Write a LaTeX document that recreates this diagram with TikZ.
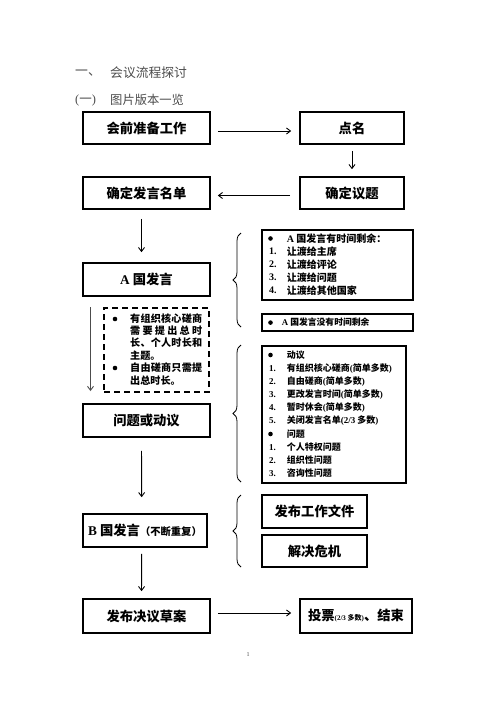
\documentclass[tikz,border=0pt]{standalone}
\usepackage{fontspec}
\setmainfont{Liberation Serif}
\newfontfamily\cjk{Noto Sans CJK SC}
\usetikzlibrary{arrows.meta,decorations.pathreplacing}
\newcommand\latn[1]{{\rmfamily\bfseries #1}}
\newcommand\fsz[1]{\fontsize{#1}{#1}\selectfont}
\begin{document}
\begin{tikzpicture}[x=1pt,y=-1pt,
 box/.style={draw,line width=1.6pt,inner sep=0pt,font=\cjk\bfseries\fsz{13.3}},
 arr/.style={line width=0.9pt,-{Straight Barb[length=4pt,width=6pt]}},
 brc/.style={line width=0.8pt,decorate,decoration={brace,amplitude=8pt}},
 itm/.style={anchor=west,inner sep=0pt,font=\cjk\bfseries\fsz{9}},
 num/.style={anchor=west,inner sep=0pt,font=\rmfamily\bfseries\fsz{9}},
 head/.style={anchor=west,inner sep=0pt,text=black!70,font=\cjk\fsz{12.8}},
]
\useasboundingbox[fill=white] (0,0) rectangle (496,702);

% headings
\node[head] (h1a) at (75,73) {一、};
\node[head] (h1b) at (110,73) {会议流程探讨};
\node[head,font=\rmfamily\fsz{12.5}] (h2a) at (75,100) {(\cjk 一\rmfamily)};
\node[head,font=\cjk\fsz{12.3}] (h2b) at (110,100) {图片版本一览};

% main boxes
\node[box,minimum width=127pt,minimum height=32pt] (b1) at (146.5,128) {会前准备工作};
\node[box,minimum width=104pt,minimum height=32pt] (b2) at (352,128) {点名};
\node[box,minimum width=104pt,minimum height=32pt] (b3) at (352,193) {确定议题};
\node[box,minimum width=127pt,minimum height=32pt] (b4) at (146.5,193) {确定发言名单};
\node[box,minimum width=127pt,minimum height=33pt] (b5) at (146.5,279.5) {\latn{A} 国发言};
\node[box,minimum width=127pt,minimum height=33pt] (b6) at (146.5,420.5) {问题或动议};
\node[box,minimum width=124pt,minimum height=33pt] (b7) at (145,530.5) {\latn{B} 国发言{\fsz{10.3}（不断重复）}};
\node[box,minimum width=127pt,minimum height=34pt] (b8) at (146.5,616) {发布决议草案};
\node[box,minimum width=112pt,minimum height=34pt] (b9) at (356,616) {投票{\rmfamily\bfseries\fsz{7}(2/3 {\cjk 多数})}、结束};

% right boxes
\node[box,minimum width=151pt,minimum height=70pt] (r1) at (337.5,265) {};
\node[box,minimum width=151pt,minimum height=17pt] (r2) at (337.5,322.5) {};
\node[box,minimum width=144pt,minimum height=137pt] (r3) at (334,414.5) {};
\node[box,minimum width=105pt,minimum height=33pt] (r4) at (314.5,511.5) {发布工作文件};
\node[box,minimum width=105pt,minimum height=32pt] (r5) at (314.5,551) {解决危机};

% dashed box
\node[draw,line width=1.6pt,dash pattern=on 6pt off 4pt,minimum width=105pt,minimum height=84pt,inner sep=0pt] (d) at (156.5,350) {};

% arrows
\draw[arr] ([yshift=-3pt]b1.east) [shorten <=7pt,shorten >=8pt] -- ([yshift=-3pt]b2.west);
\draw[arr] (b2.south) [shorten <=6pt,shorten >=7pt] -- (b3.north);
\draw[arr] ([yshift=-2.5pt]b3.west) [shorten <=9pt,shorten >=7pt] -- ([yshift=-2.5pt]b4.east);
\draw[arr] ([xshift=-5pt]b4.south) [shorten <=9pt,shorten >=10pt] -- ([xshift=-5pt]b5.north);
\draw[arr] ([xshift=-5pt]b6.south) [shorten <=13pt,shorten >=16pt] -- ([xshift=-3.3pt]b7.north);
\draw[arr] ([xshift=-3.3pt]b7.south) [shorten <=6pt,shorten >=7pt] -- ([xshift=-5pt]b8.north);
\draw[arr] ([yshift=3pt]b8.east) [shorten <=7pt,shorten >=8pt] -- ([yshift=3pt]b9.west);
\coordinate (s1) at (90.5,307);
\coordinate (s2) at (90.5,391);
\draw[arr,black!70] (s1) -- (s2);

% braces
\draw[brc] (241,327) -- (241,233);
\draw[brc] (241,482) -- (241,345);
\draw[brc] (241,567) -- (241,495);

% r1 contents
\fill (270.5,238.5) circle (2.3pt);
\node[itm,font=\cjk\bfseries\fsz{10}] (t10) at (286.7,238.5) {\latn{A} 国发言有时间剩余：};
\node[num,font=\rmfamily\bfseries\fsz{10}] (n11) at (269,251.5) {1.};
\node[itm,font=\cjk\bfseries\fsz{10}] (t11) at (286.7,251.5) {让渡给主席};
\node[num,font=\rmfamily\bfseries\fsz{10}] (n12) at (269,264.5) {2.};
\node[itm,font=\cjk\bfseries\fsz{10}] (t12) at (286.7,264.5) {让渡给评论};
\node[num,font=\rmfamily\bfseries\fsz{10}] (n13) at (269,277.5) {3.};
\node[itm,font=\cjk\bfseries\fsz{10}] (t13) at (286.7,277.5) {让渡给问题};
\node[num,font=\rmfamily\bfseries\fsz{10}] (n14) at (269,290.5) {4.};
\node[itm,font=\cjk\bfseries\fsz{10}] (t14) at (286.7,290.5) {让渡给其他国家};

% r2 contents
\fill (270.5,322.6) circle (2.3pt);
\node[itm,font=\cjk\bfseries\fsz{8.8}] (t20) at (281.7,322.6) {\latn{A} 国发言没有时间剩余};

% r3 contents
\fill (270.5,355) circle (2.3pt);
\node[itm] (t30) at (286.7,355) {动议};
\node[num] (n31) at (269,368.2) {1.};
\node[itm] (t31) at (286.7,368.2) {有组织核心磋商\latn{(}简单多数\latn{)}};
\node[num] (n32) at (269,381.3) {2.};
\node[itm] (t32) at (286.7,381.3) {自由磋商\latn{(}简单多数\latn{)}};
\node[num] (n33) at (269,394.5) {3.};
\node[itm] (t33) at (286.7,394.5) {更改发言时间\latn{(}简单多数\latn{)}};
\node[num] (n34) at (269,407.6) {4.};
\node[itm] (t34) at (286.7,407.6) {暂时休会\latn{(}简单多数\latn{)}};
\node[num] (n35) at (269,420.8) {5.};
\node[itm] (t35) at (286.7,420.8) {关闭发言名单\latn{(2/3} 多数\latn{)}};
\fill (270.5,434) circle (2.3pt);
\node[itm] (t36) at (286.7,434) {问题};
\node[num] (n37) at (269,447.1) {1.};
\node[itm] (t37) at (286.7,447.1) {个人特权问题};
\node[num] (n38) at (269,460.3) {2.};
\node[itm] (t38) at (286.7,460.3) {组织性问题};
\node[num] (n39) at (269,473.4) {3.};
\node[itm] (t39) at (286.7,473.4) {咨询性问题};

% dashed box contents
\fill (115,319) circle (2.3pt);
\node[itm,font=\cjk\bfseries\fsz{10.1}] (d1) at (130,319) {\makebox[72pt][s]{有\hfill 组\hfill 织\hfill 核\hfill 心\hfill 磋\hfill 商}};
\node[itm,font=\cjk\bfseries\fsz{10.1}] (d2) at (130,331) {\makebox[72pt][s]{需\hfill 要\hfill 提\hfill 出\hfill 总\hfill 时}};
\node[itm,font=\cjk\bfseries\fsz{10.1}] (d3) at (130,343) {\makebox[72pt][s]{长\hfill 、\hfill 个\hfill 人\hfill 时\hfill 长\hfill 和}};
\node[itm,font=\cjk\bfseries\fsz{10.1}] (d4) at (130,356) {主题。};
\fill (115,368) circle (2.3pt);
\node[itm,font=\cjk\bfseries\fsz{10.1}] (d5) at (130,368) {\makebox[72pt][s]{自\hfill 由\hfill 磋\hfill 商\hfill 只\hfill 需\hfill 提}};
\node[itm,font=\cjk\bfseries\fsz{10.1}] (d6) at (130,381) {出总时长。};

% page number
\node[inner sep=0pt,text=black!70,font=\rmfamily\fsz{6}] (pg) at (248,655) {1};
\end{tikzpicture}
\end{document}
